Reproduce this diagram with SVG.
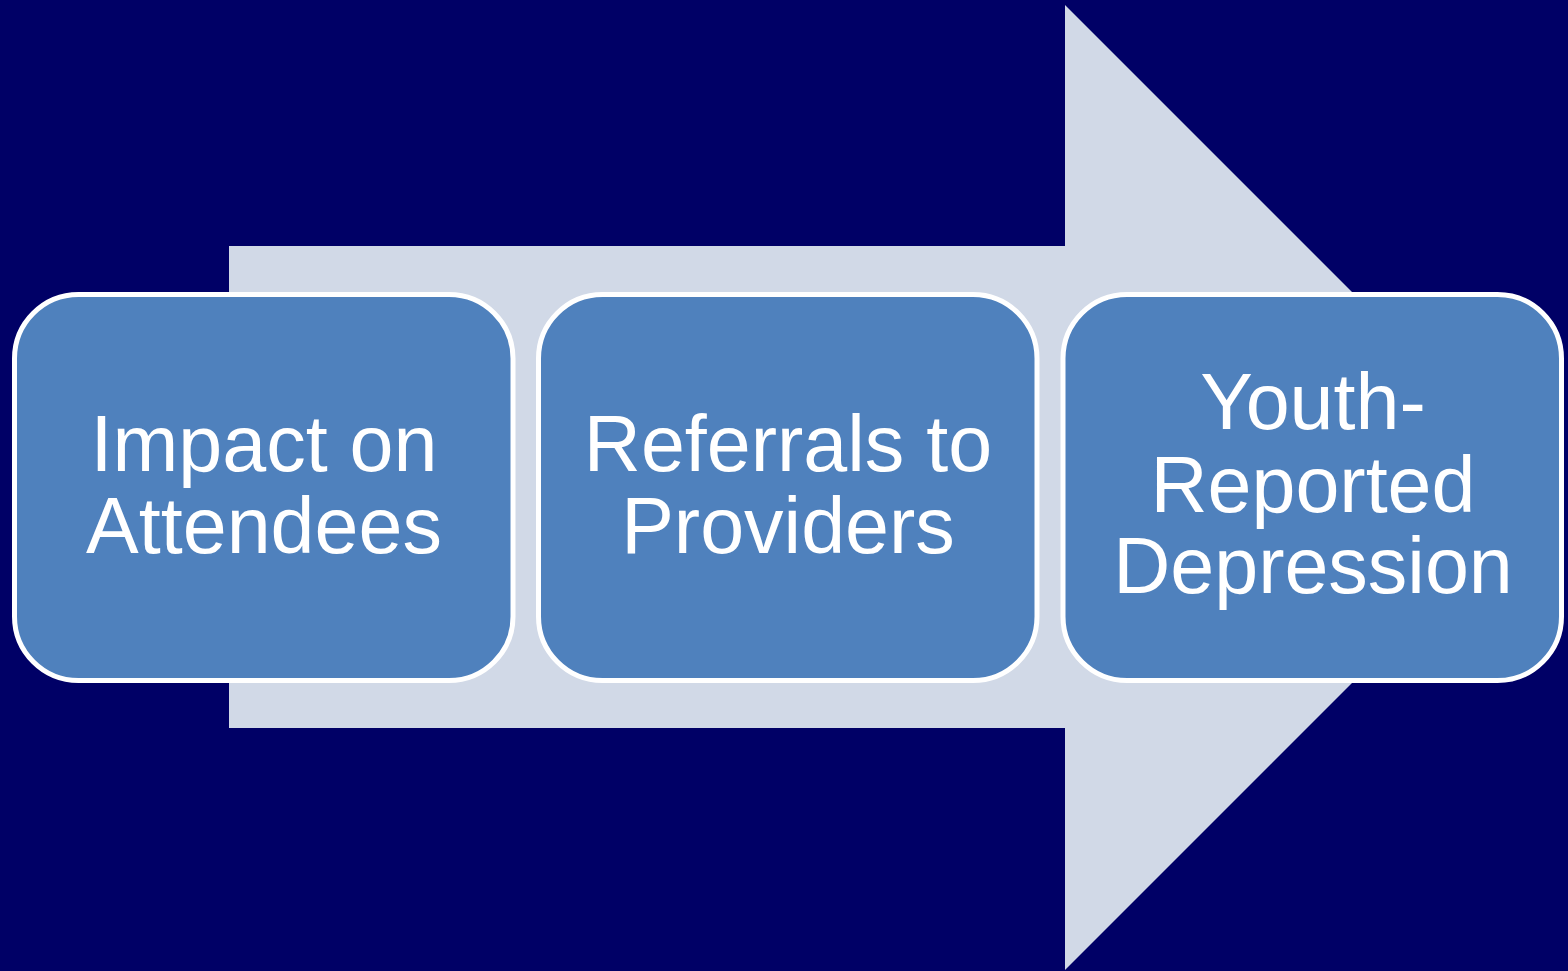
<svg xmlns="http://www.w3.org/2000/svg" width="1568" height="971" viewBox="0 0 1568 971">
<style>
.box{fill:#4F81BD;stroke:#FFFFFF;stroke-width:5}
.lbl{font-family:"Liberation Sans",Arial,sans-serif;font-size:79px;fill:#FFFFFF;text-anchor:middle}
</style>
<rect x="0" y="0" width="1568" height="971" fill="#000066"/>
<g id="connectors">
<polygon id="arrow" points="229,246 1065,246 1065,5 1547.5,487.5 1065,970 1065,728 229,728" fill="#D1D9E7"/>
</g>
<g id="node1">
<rect class="box" x="14.5" y="294.5" width="498.5" height="386" rx="64" ry="64"/>
<text class="lbl" x="264" y="471">Impact on</text>
<text class="lbl" x="264" y="553">Attendees</text>
</g>
<g id="node2">
<rect class="box" x="538.5" y="294.5" width="498.5" height="386" rx="64" ry="64"/>
<text class="lbl" x="788" y="471">Referrals to</text>
<text class="lbl" x="788" y="553">Providers</text>
</g>
<g id="node3">
<rect class="box" x="1063" y="294.5" width="498.5" height="386" rx="64" ry="64"/>
<text class="lbl" x="1313" y="429">Youth-</text>
<text class="lbl" x="1313" y="512">Reported</text>
<text class="lbl" x="1313" y="593">Depression</text>
</g>
</svg>
